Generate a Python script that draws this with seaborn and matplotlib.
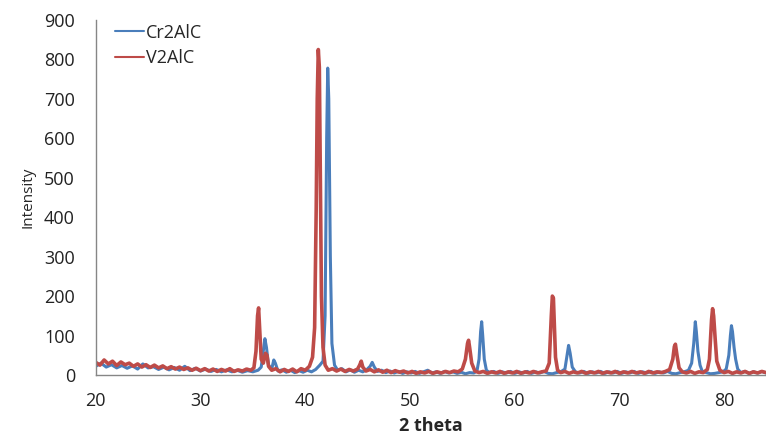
import numpy as np
import pandas as pd
import matplotlib
matplotlib.use("Agg")
import matplotlib.pyplot as plt
import seaborn as sns

# (2theta, intensity)
cr2alc_points = [
    (20.0, 22), (20.5, 30), (21.0, 20), (21.5, 26), (22.0, 18), (22.5, 24), (23.0, 17), (23.5, 23),
    (24.0, 15), (24.5, 28), (25.0, 18), (25.5, 21), (26.0, 14), (26.5, 20), (27.0, 13), (27.5, 19),
    (28.0, 12), (28.5, 22), (29.0, 11), (29.5, 17), (30.0, 10), (30.5, 15), (31.0, 9), (31.5, 14),
    (32.0, 8), (32.5, 13), (33.0, 8), (33.5, 12), (34.0, 7), (34.5, 11), (35.0, 8), (35.5, 12),
    (35.8, 20), (36.0, 60), (36.15, 92), (36.3, 70), (36.5, 25), (36.8, 15), (37.0, 38), (37.15, 30),
    (37.4, 10), (37.8, 13), (38.2, 7), (38.6, 12), (39.0, 6), (39.4, 11), (39.8, 7), (40.2, 12),
    (40.6, 8), (41.0, 14), (41.4, 25), (41.7, 35), (41.9, 150), (42.05, 600), (42.15, 778), (42.25, 700),
    (42.4, 300), (42.55, 80), (42.8, 25), (43.1, 12), (43.5, 16), (43.9, 8), (44.3, 13), (44.7, 7),
    (45.1, 12), (45.5, 8), (45.9, 14), (46.2, 22), (46.4, 32), (46.6, 20), (46.9, 9), (47.3, 12),
    (47.7, 6), (48.1, 10), (48.5, 5), (48.9, 9), (49.3, 4), (49.7, 8), (50.1, 5), (50.5, 9),
    (50.9, 4), (51.3, 8), (51.7, 12), (52.1, 5), (52.5, 8), (52.9, 4), (53.3, 9), (53.7, 5),
    (54.1, 8), (54.5, 4), (54.9, 7), (55.3, 3), (55.7, 6), (56.1, 5), (56.4, 10), (56.6, 40),
    (56.75, 110), (56.85, 135), (56.95, 100), (57.1, 40), (57.3, 12), (57.6, 6), (58.0, 9), (58.4, 4),
    (58.8, 8), (59.2, 5), (59.6, 9), (60.0, 4), (60.4, 8), (60.8, 5), (61.2, 9), (61.6, 4),
    (62.0, 8), (62.4, 5), (62.8, 9), (63.2, 4), (63.6, 3), (64.0, 6), (64.4, 8), (64.8, 15),
    (65.0, 50), (65.15, 75), (65.3, 55), (65.5, 20), (65.8, 8), (66.2, 5), (66.6, 9), (67.0, 4),
    (67.4, 8), (67.8, 5), (68.2, 9), (68.6, 4), (69.0, 8), (69.4, 5), (69.8, 9), (70.2, 4),
    (70.6, 8), (71.0, 5), (71.4, 9), (71.8, 4), (72.2, 8), (72.6, 5), (73.0, 9), (73.4, 4),
    (73.8, 8), (74.2, 5), (74.6, 9), (75.0, 4), (75.4, 3), (75.8, 6), (76.2, 8), (76.6, 12),
    (76.9, 30), (77.1, 80), (77.25, 135), (77.35, 110), (77.5, 60), (77.7, 25), (77.9, 10), (78.3, 6),
    (78.7, 3), (79.1, 4), (79.5, 6), (79.9, 8), (80.2, 15), (80.45, 50), (80.6, 100), (80.7, 125),
    (80.8, 110), (80.95, 70), (81.1, 40), (81.3, 15), (81.6, 6), (82.0, 9), (82.4, 4), (82.8, 8),
    (83.2, 5), (83.6, 9), (84.0, 5),
]

v2alc_points = [
    (20.0, 32), (20.4, 25), (20.8, 38), (21.2, 28), (21.6, 35), (22.0, 24), (22.4, 33), (22.8, 26),
    (23.2, 30), (23.6, 22), (24.0, 28), (24.4, 20), (24.8, 26), (25.2, 19), (25.6, 25), (26.0, 18),
    (26.4, 23), (26.8, 16), (27.2, 21), (27.6, 15), (28.0, 20), (28.4, 14), (28.8, 18), (29.2, 12),
    (29.6, 17), (30.0, 11), (30.4, 16), (30.8, 10), (31.2, 15), (31.6, 9), (32.0, 14), (32.4, 10),
    (32.8, 16), (33.2, 9), (33.6, 13), (34.0, 10), (34.4, 15), (34.8, 12), (35.1, 18), (35.3, 60),
    (35.45, 150), (35.55, 170), (35.65, 120), (35.8, 40), (36.0, 30), (36.2, 55), (36.35, 50), (36.5, 22),
    (36.8, 12), (37.2, 16), (37.6, 8), (38.0, 14), (38.4, 9), (38.8, 15), (39.2, 8), (39.6, 16),
    (40.0, 12), (40.4, 22), (40.7, 45), (40.9, 120), (41.05, 420), (41.15, 700), (41.25, 825), (41.35, 780),
    (41.45, 500), (41.55, 200), (41.7, 70), (41.9, 25), (42.2, 12), (42.6, 16), (43.0, 10), (43.4, 15),
    (43.8, 9), (44.2, 14), (44.6, 10), (45.0, 15), (45.2, 25), (45.35, 35), (45.5, 20), (45.8, 10),
    (46.2, 14), (46.6, 8), (47.0, 13), (47.4, 7), (47.8, 12), (48.2, 6), (48.6, 11), (49.0, 7),
    (49.4, 10), (49.8, 5), (50.2, 9), (50.6, 4), (51.0, 8), (51.4, 5), (51.8, 9), (52.2, 4),
    (52.6, 8), (53.0, 5), (53.4, 9), (53.8, 6), (54.2, 10), (54.6, 8), (55.0, 15), (55.3, 40),
    (55.5, 80), (55.6, 88), (55.7, 70), (55.9, 30), (56.2, 10), (56.6, 6), (57.0, 9), (57.4, 4),
    (57.8, 8), (58.2, 5), (58.6, 9), (59.0, 4), (59.4, 8), (59.8, 5), (60.2, 9), (60.6, 4),
    (61.0, 8), (61.4, 5), (61.8, 9), (62.2, 5), (62.6, 8), (63.0, 10), (63.3, 30), (63.5, 150),
    (63.6, 200), (63.7, 195), (63.8, 120), (63.9, 45), (64.1, 12), (64.4, 6), (64.8, 9), (65.2, 4),
    (65.6, 8), (66.0, 5), (66.4, 9), (66.8, 4), (67.2, 8), (67.6, 5), (68.0, 9), (68.4, 4),
    (68.8, 8), (69.2, 5), (69.6, 9), (70.0, 4), (70.4, 8), (70.8, 5), (71.2, 9), (71.6, 5),
    (72.0, 8), (72.4, 4), (72.8, 9), (73.2, 5), (73.6, 8), (74.0, 6), (74.4, 9), (74.8, 14),
    (75.1, 40), (75.25, 72), (75.35, 78), (75.5, 50), (75.7, 18), (76.0, 8), (76.4, 5), (76.8, 9),
    (77.2, 4), (77.6, 8), (78.0, 6), (78.4, 14), (78.6, 40), (78.8, 140), (78.9, 168), (79.0, 150),
    (79.15, 90), (79.3, 35), (79.6, 12), (80.0, 6), (80.4, 9), (80.8, 4), (81.2, 8), (81.6, 5),
    (82.0, 9), (82.4, 4), (82.8, 8), (83.2, 5), (83.6, 9), (84.0, 6),
]

series_names = ["Cr2AlC", "V2AlC"]
series_colors = ["#4A7EBB", "#BE4B48"]
x_ticks = [20, 30, 40, 50, 60, 70, 80]
y_ticks = [0, 100, 200, 300, 400, 500, 600, 700, 800, 900]

sns.set_theme(style="white")
plt.rcParams['font.family'] = ['Open Sans', 'DejaVu Sans']

fig = plt.figure(figsize=(7.66, 4.34), dpi=100)
ax = fig.add_axes([0.125, 0.136, 0.875, 0.818])

for name, pts, col, lw in zip(series_names, [cr2alc_points, v2alc_points], series_colors, [2.2, 2.6]):
    df = pd.DataFrame(pts, columns=["2 theta", "Intensity"])
    sns.lineplot(data=df, x="2 theta", y="Intensity", ax=ax, color=col, linewidth=lw,
                 label=name, estimator=None, sort=False)

ax.set_xlim(20, 84)
ax.set_ylim(0, 900)
ax.set_xticks(x_ticks)
ax.set_yticks(y_ticks)
ax.tick_params(axis="both", length=0, labelsize=13, colors="#222222")
ax.tick_params(axis="y", pad=15)
ax.tick_params(axis="x", pad=12)
for s in ["top", "right"]:
    ax.spines[s].set_visible(False)
for s in ["left", "bottom"]:
    ax.spines[s].set_color("#868686")
    ax.spines[s].set_linewidth(1.0)

ax.set_xlabel("2 theta", fontsize=13, fontweight="bold", labelpad=5)
ax.set_ylabel("Intensity", fontsize=11, labelpad=6)

leg = ax.legend(loc="upper left", bbox_to_anchor=(0.005, 1.035), frameon=False,
                fontsize=13, handlelength=1.6, handletextpad=0.1, labelspacing=0.4)
for line in leg.get_lines():
    line.set_linewidth(1.5)

fig.savefig("out.png", dpi=100)
